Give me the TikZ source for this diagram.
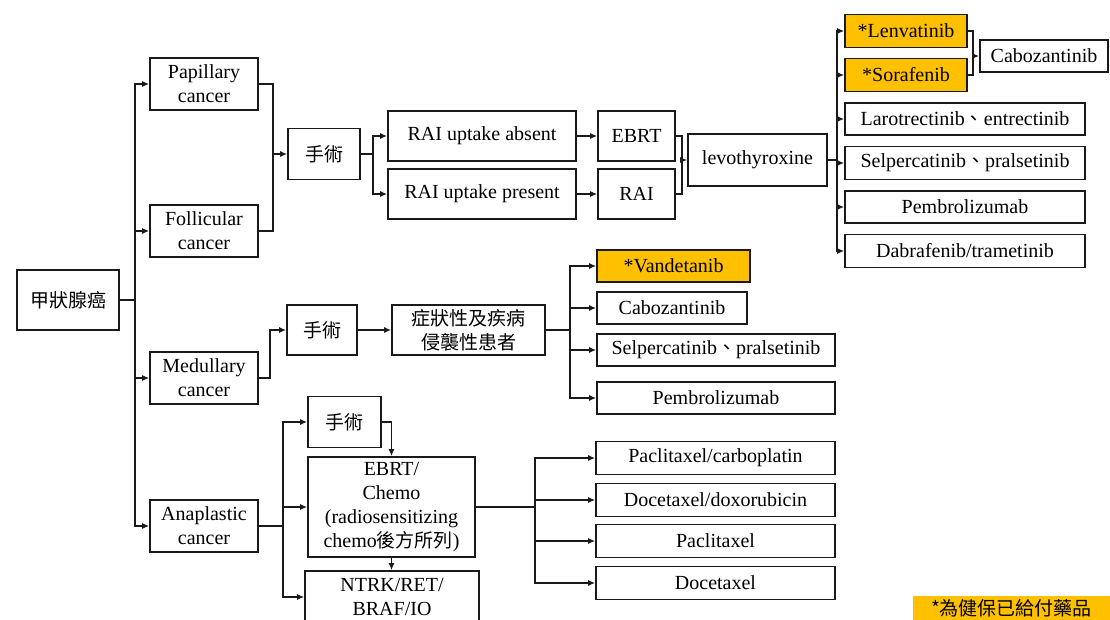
\documentclass[tikz,border=0pt]{standalone}
\usepackage{fontspec}
\setmainfont{Liberation Serif}
\newfontfamily\cjk{Noto Sans CJK TC}[Scale=0.95]
\usetikzlibrary{arrows.meta}
\definecolor{gold}{HTML}{FFC000}
\definecolor{edge}{HTML}{1A1A1A}
\tikzset{
	box/.style 2 args = {draw=edge, line width=1.6pt, minimum width=#1pt, minimum height=#2pt, inner sep=0pt, align=center, font=\fontsize{20}{24}\selectfont},
	paid/.style 2 args = {box={#1}{#2}, fill=gold},
	link/.style = {draw=edge, line width=1.6pt},
	arr/.style = {link, -{Latex[length=7pt,width=6pt]}}
}
\begin{document}
\begin{tikzpicture}[x=1pt, y=-1pt]
	\useasboundingbox (0,0) rectangle (1110,619);
	\clip (0,0) rectangle (1110,619);

	\node[box={102}{60}] (root) at (68,300) {\cjk 甲狀腺癌};
	\node[box={108}{52}] (pap) at (204,84) {Papillary\\cancer};
	\node[box={108}{52}] (fol) at (204,231) {Follicular\\cancer};
	\node[box={108}{52}] (med) at (204,378) {Medullary\\cancer};
	\node[box={108}{52}] (ana) at (204,526) {Anaplastic\\cancer};

	\node[box={72}{51}] (op1) at (324,154) {\cjk 手術};
	\node[box={188}{50}] (absent) at (482,136) {RAI uptake absent};
	\node[box={188}{50}] (present) at (482,194) {RAI uptake present};
	\node[box={77}{50}] (ebrt) at (636.5,136) {EBRT};
	\node[box={77}{50}] (rai) at (636.5,194) {RAI};
	\node[box={139}{52}] (levo) at (757.5,160) {levothyroxine};
	\node[paid={122}{33}] (len) at (906,31) {*Lenvatinib};
	\node[paid={122}{33}] (sor) at (906,75) {*Sorafenib};
	\node[box={128}{32}] (cabo1) at (1044,56) {Cabozantinib};
	\node[box={240}{32}] (lar) at (965,119) {Larotrectinib{\cjk 、}entrectinib};
	\node[box={240}{33}] (sel1) at (965,163) {Selpercatinib{\cjk 、}pralsetinib};
	\node[box={240}{32}] (pem1) at (965,207) {Pembrolizumab};
	\node[box={240}{33}] (dab) at (965,251) {Dabrafenib/trametinib};

	\node[box={70}{50}] (op2) at (322,330) {\cjk 手術};
	\node[box={153}{50}] (sym) at (468.5,330) {{\cjk 症狀性及疾病}\\{\cjk 侵襲性患者}};
	\node[paid={153}{32}] (van) at (673.5,266) {*Vandetanib};
	\node[box={150}{32}] (cab2) at (672,308) {Cabozantinib};
	\node[box={238}{32}] (sel2) at (716,350) {Selpercatinib{\cjk 、}pralsetinib};
	\node[box={238}{32}] (pem2) at (716,398) {Pembrolizumab};

	\node[box={73}{51}] (op3) at (344.5,422) {\cjk 手術};
	\node[box={167}{100}] (chemo) at (391.5,507) {EBRT/\\Chemo\\(radiosensitizing\\chemo{\cjk 後方所列})};
	\node[box={174}{52}] (ntrk) at (392,597) {NTRK/RET/\\BRAF/IO};
	\node[box={239}{33}] (pc) at (715.5,458) {Paclitaxel/carboplatin};
	\node[box={239}{33}] (dd) at (715.5,500) {Docetaxel/doxorubicin};
	\node[box={239}{33}] (pa) at (715.5,541) {Paclitaxel};
	\node[box={239}{33}] (dc) at (715.5,583) {Docetaxel};

	\node[paid={197}{24}, draw=none] (note) at (1011.5,608) {\cjk *為健保已給付藥品};

	\coordinate (j1) at (135,300);
	\coordinate (j2) at (273,154);
	\coordinate (j3) at (373,154);
	\coordinate (j4) at (682,160);
	\coordinate (j5) at (837,160);
	\coordinate (j6) at (973,56);
	\coordinate (j7) at (270,330);
	\coordinate (j8) at (570,330);
	\coordinate (j9) at (283,526);
	\coordinate (j10) at (535,507);

	\draw[link] (root.east) -- (j1);
	\foreach \n in {pap,fol,med,ana}
		\draw[arr] (j1) |- (\n.west);
	\draw[link] (pap.east) -| (j2);
	\draw[link] (fol.east) -| (j2);
	\draw[arr] (j2) -- (op1.west);
	\draw[link] (op1.east) -- (j3);
	\foreach \n in {absent,present}
		\draw[arr] (j3) |- (\n.west);
	\draw[arr] (absent.east) -- (ebrt.west);
	\draw[arr] (present.east) -- (rai.west);
	\draw[link] (ebrt.east) -| (j4);
	\draw[link] (rai.east) -| (j4);
	\draw[arr] (j4) -- (levo.west);
	\draw[link] (levo.east) -- (j5);
	\foreach \n in {len,sor,lar,sel1,pem1,dab}
		\draw[arr] (j5) |- (\n.west);
	\draw[link] (len.east) -| (j6);
	\draw[link] (sor.east) -| (j6);
	\draw[arr] (j6) -- (cabo1.west);

	\draw[arr] (med.east) -| (j7) -- (op2.west);
	\draw[arr] (op2.east) -- (sym.west);
	\draw[link] (sym.east) -- (j8);
	\foreach \n in {van,cab2,sel2,pem2}
		\draw[arr] (j8) |- (\n.west);

	\draw[link] (ana.east) -- (j9);
	\foreach \n in {op3,chemo,ntrk}
		\draw[arr] (j9) |- (\n.west);
	\draw[arr] (op3.east) -| (chemo.north);
	\draw[arr] (chemo.south) -- (chemo.south |- ntrk.north);
	\draw[link] (chemo.east) -- (j10);
	\foreach \n in {pc,dd,pa,dc}
		\draw[arr] (j10) |- (\n.west);
\end{tikzpicture}
\end{document}
